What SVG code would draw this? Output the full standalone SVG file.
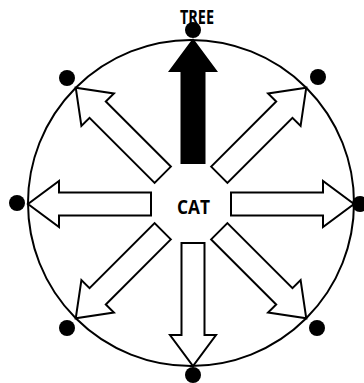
<svg xmlns="http://www.w3.org/2000/svg" xmlns:xlink="http://www.w3.org/1999/xlink" width="364" height="383" viewBox="0 0 364 383">
<style>
.ring{fill:none;stroke:#000;stroke-width:2}
.arr{fill:#fff;stroke:#000;stroke-width:2;stroke-linejoin:miter}
.arr.solid{fill:#000}
.dot{fill:#000}
.lbl{font-family:"Open Sans","Liberation Sans",sans-serif;font-weight:bold;font-size:19px;fill:#000;text-anchor:middle}
</style>
<defs>
<path id="ar" d="M40,-11.5 H132 V-23 L163,0 L132,23 V11.5 H40 Z"/>
</defs>
<rect width="364" height="383" fill="#fff"/>
<g id="ring"><circle class="ring" cx="191" cy="203" r="163"/></g>
<g id="connectors">
<use href="#ar" class="arr solid" transform="translate(193,203) rotate(-90)"/>
<use href="#ar" class="arr" transform="translate(191,204) rotate(0)"/>
<use href="#ar" class="arr" transform="translate(193,203) rotate(90)"/>
<use href="#ar" class="arr" transform="translate(191,204) rotate(180)"/>
<use href="#ar" class="arr" transform="translate(191,203) rotate(-45)"/>
<use href="#ar" class="arr" transform="translate(191,203) rotate(45)"/>
<use href="#ar" class="arr" transform="translate(191,203) rotate(135)"/>
<use href="#ar" class="arr" transform="translate(191,203) rotate(-135)"/>
</g>
<g id="dot-top"><circle class="dot" cx="193" cy="30" r="8"/></g>
<g id="dot-right"><circle class="dot" cx="360" cy="204" r="8"/></g>
<g id="dot-bottom"><circle class="dot" cx="193" cy="375" r="8"/></g>
<g id="dot-left"><circle class="dot" cx="17" cy="203" r="8"/></g>
<g id="dot-tl"><circle class="dot" cx="67" cy="78" r="8"/></g>
<g id="dot-tr"><circle class="dot" cx="318" cy="77" r="8"/></g>
<g id="dot-bl"><circle class="dot" cx="67" cy="328" r="8"/></g>
<g id="dot-br"><circle class="dot" cx="317" cy="328" r="8"/></g>
<g id="tree"><text class="lbl" x="197" y="23.5" textLength="34" lengthAdjust="spacingAndGlyphs">TREE</text></g>
<g id="cat"><text class="lbl" x="193.5" y="213.5" textLength="33" lengthAdjust="spacingAndGlyphs">CAT</text></g>
</svg>
